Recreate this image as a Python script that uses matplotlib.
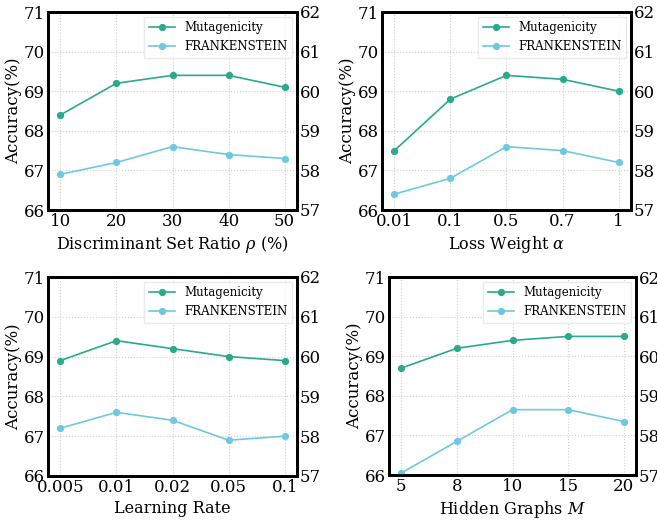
import matplotlib.pyplot as plt

plt.rcParams['font.family'] = 'DejaVu Serif'
plt.rcParams['mathtext.fontset'] = 'dejavuserif'

mut_color = '#2aaa8a'
fra_color = '#6ec9df'

xlabels = [r'Discriminant Set Ratio $\rho$ (%)', r'Loss Weight $\alpha$',
           'Learning Rate', r'Hidden Graphs $M$']
ticks_ratio = ['10', '20', '30', '40', '50']
ticks_weight = ['0.01', '0.1', '0.5', '0.7', '1']
ticks_lr = ['0.005', '0.01', '0.02', '0.05', '0.1']
ticks_hidden = ['5', '8', '10', '15', '20']

mut_ratio = [68.4, 69.2, 69.4, 69.4, 69.1]
fra_ratio = [57.9, 58.2, 58.6, 58.4, 58.3]
mut_weight = [67.5, 68.8, 69.4, 69.3, 69.0]
fra_weight = [57.4, 57.8, 58.6, 58.5, 58.2]
mut_lr = [68.9, 69.4, 69.2, 69.0, 68.9]
fra_lr = [58.2, 58.6, 58.4, 57.9, 58.0]
mut_hidden = [68.7, 69.2, 69.4, 69.5, 69.5]
fra_hidden = [57.05, 57.85, 58.65, 58.65, 58.35]

panels = [
    (ticks_ratio, mut_ratio, fra_ratio),
    (ticks_weight, mut_weight, fra_weight),
    (ticks_lr, mut_lr, fra_lr),
    (ticks_hidden, mut_hidden, fra_hidden),
]

W, H = 657, 520
# axes boxes in pixels: left, right, top, bottom
boxes = [(48, 297, 12, 210), (382, 631, 12, 210),
         (48, 297, 277, 476), (389, 636, 277, 475)]

fig = plt.figure(figsize=(6.57, 5.2), dpi=100)

for i, (ticks, mut, fra) in enumerate(panels):
    l, r, t, b = boxes[i]
    ax = fig.add_axes([l / W, 1 - b / H, (r - l) / W, (b - t) / H])
    ax2 = ax.twinx()
    x = list(range(len(ticks)))
    l1, = ax.plot(x, mut, color=mut_color, marker='o', markersize=4.2, lw=1.2,
                  label='Mutagenicity')
    l2, = ax2.plot(x, fra, color=fra_color, marker='o', markersize=4.2, lw=1.2,
                   label='FRANKENSTEIN')
    ax.set_ylim(66, 71)
    ax2.set_ylim(57, 62)
    ax.set_xlim(-0.22, 4.22)
    ax.set_xticks(x)
    ax.set_xticklabels(ticks)
    ax.set_yticks(range(66, 72))
    ax2.set_yticks(range(57, 63))
    ax.grid(True, color='#d0d0d0', linestyle=':', lw=0.8)
    ax.set_axisbelow(True)
    for a in (ax, ax2):
        a.tick_params(length=0, labelsize=12, pad=2)
        for s in a.spines.values():
            s.set_linewidth(2)
            s.set_color('black')
    ax.set_ylabel('Accuracy(%)', fontsize=12, labelpad=1)
    ax.set_xlabel(xlabels[i], fontsize=11.5, labelpad=3)
    ax.legend([l1, l2], ['Mutagenicity', 'FRANKENSTEIN'], loc='upper right',
              fontsize=8.5, frameon=True, fancybox=False, edgecolor='#e6e6e6',
              borderaxespad=0.4, handlelength=2.2)

fig.savefig('out.png', dpi=100)
